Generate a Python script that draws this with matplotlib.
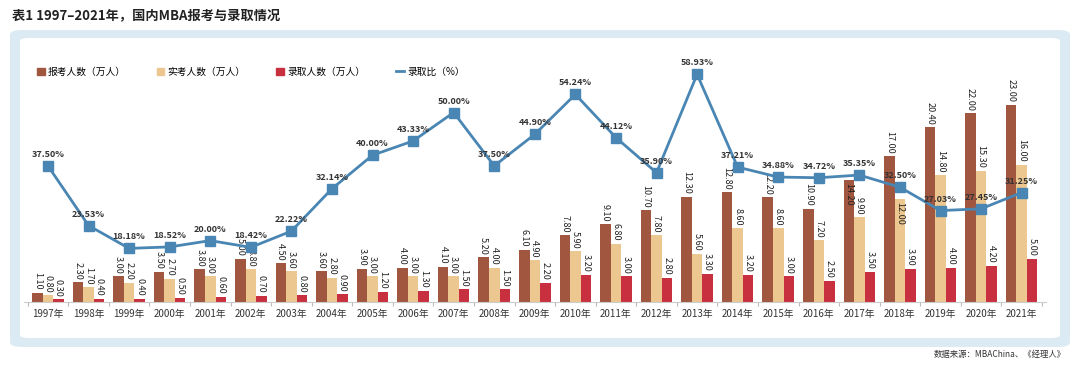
import matplotlib
matplotlib.use("Agg")
import matplotlib.pyplot as plt
import numpy as np
from matplotlib.patches import FancyBboxPatch, Patch
from matplotlib.lines import Line2D

plt.rcParams['font.family'] = ['Noto Sans CJK SC', 'DejaVu Sans']

years = [str(y) + "年" for y in range(1997, 2022)]
applied = [1.10, 2.30, 3.00, 3.50, 3.80, 5.00, 4.50, 3.60, 3.90, 4.00, 4.10, 5.20, 6.10,
           7.80, 9.10, 10.70, 12.30, 12.80, 12.20, 10.90, 14.20, 17.00, 20.40, 22.00, 23.00]
sat = [0.80, 1.70, 2.20, 2.70, 3.00, 3.80, 3.60, 2.80, 3.00, 3.00, 3.00, 4.00, 4.90,
       5.90, 6.80, 7.80, 5.60, 8.60, 8.60, 7.20, 9.90, 12.00, 14.80, 15.30, 16.00]
admitted = [0.30, 0.40, 0.40, 0.50, 0.60, 0.70, 0.80, 0.90, 1.20, 1.30, 1.50, 1.50, 2.20,
            3.20, 3.00, 2.80, 3.30, 3.20, 3.00, 2.50, 3.50, 3.90, 4.00, 4.20, 5.00]
ratio = [37.50, 23.53, 18.18, 18.52, 20.00, 18.42, 22.22, 32.14, 40.00, 43.33, 50.00, 37.50, 44.90,
         54.24, 44.12, 35.90, 58.93, 37.21, 34.88, 34.72, 35.35, 32.50, 27.03, 27.45, 31.25]

c_app = "#a0563f"
c_sat = "#ecc78f"
c_adm = "#c9303f"
c_line = "#4a86b3"

fig = plt.figure(figsize=(10.8, 3.7), dpi=100)

# background panel (light blue frame, white inside)
outer = FancyBboxPatch((10/1080, 23/370), 1060/1080, 317/370,
                       boxstyle="round,pad=0,rounding_size=0.012",
                       transform=fig.transFigure, facecolor="#dbeaf3", edgecolor="none", zorder=-2)
inner = FancyBboxPatch((20/1080, 32/370), 1040/1080, 300/370,
                       boxstyle="round,pad=0,rounding_size=0.008",
                       transform=fig.transFigure, facecolor="white", edgecolor="none", zorder=-1)
fig.patches.extend([outer, inner])

fig.text(12/1080, 1 - 15/370, "表1 1997–2021年，国内MBA报考与录取情况",
         fontsize=9.5, fontweight="bold", color="#222222", va="center", ha="left")
fig.text(1066/1080, 1 - 355/370, "数据来源：MBAChina、《经理人》",
         fontsize=6, color="#333333", va="center", ha="right")

ax = fig.add_axes([23.6/1080, 68/370, 1022.4/1080, 242/370])
ax.set_facecolor("none")
x = np.arange(len(years))
w = 0.26
b1 = ax.bar(x - w, applied, w, color=c_app)
b2 = ax.bar(x, sat, w, color=c_sat)
b3 = ax.bar(x + w, admitted, w, color=c_adm)
# a couple of labels sit inside the bar top, as in the original
inside = {(0, 20), (1, 21)}
for k, (bars, vals) in enumerate([(b1, applied), (b2, sat), (b3, admitted)]):
    for i, (r, v) in enumerate(zip(bars, vals)):
        if (k, i) in inside:
            off, va = -2, "top"
        else:
            off, va = 2, "bottom"
        ax.annotate("%.2f" % v, (r.get_x() + r.get_width()/2, v), xytext=(0, off),
                    textcoords="offset points", rotation=-90, ha="center", va=va,
                    fontsize=6.5, color="#222222")

ax.set_xlim(-0.6, len(years) - 0.4)
ax.set_ylim(0, 242/8.57)
ax.set_xticks(x)
ax.set_xticklabels(years, fontsize=7, color="#333333")
ax.tick_params(axis="x", length=0, pad=5)
ax.set_xticks(np.arange(len(years) + 1) - 0.5, minor=True)
ax.tick_params(axis="x", which="minor", length=3, color="#bbbbbb", width=0.8)
ax.set_yticks([])
for s in ["top", "right", "left"]:
    ax.spines[s].set_visible(False)
ax.spines["bottom"].set_color("#cccccc")
ax.spines["bottom"].set_linewidth(0.8)

ax2 = ax.twinx()
ax2.plot(x, ratio, color=c_line, lw=2, marker="s", markersize=7,
         markerfacecolor=c_line, markeredgecolor=c_line)
for xi, v in zip(x, ratio):
    ax2.annotate("%.2f%%" % v, (xi, v), xytext=(0, 5), textcoords="offset points",
                 ha="center", va="bottom", fontsize=6.5, fontweight="bold", color="#333333")
ax2.set_ylim((326 - 302)/4.27, (326 - 60)/4.27)
ax2.set_yticks([])
for s in ax2.spines.values():
    s.set_visible(False)

handles = [Patch(color=c_app), Patch(color=c_sat), Patch(color=c_adm),
           Line2D([], [], color=c_line, lw=2)]
labels = ["报考人数（万人）", "实考人数（万人）", "录取人数（万人）", "录取比（%）"]
fig.legend(handles, labels, loc="center left", bbox_to_anchor=(28/1080, 1 - 72/370),
           ncol=4, frameon=False, fontsize=7, handlelength=0.8, handleheight=0.8,
           handletextpad=0.3, columnspacing=3.2)

fig.savefig("out.png", dpi=100)
